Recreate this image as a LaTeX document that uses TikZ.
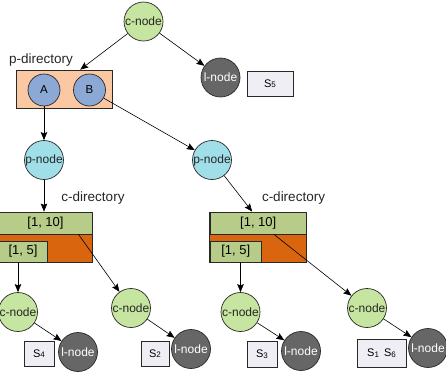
\documentclass[tikz,border=0pt]{standalone}
\usepackage{fontspec}
\setmainfont{Liberation Sans}
\usetikzlibrary{arrows.meta}
\definecolor{cgreen}{RGB}{197,229,160}
\definecolor{pcyan}{RGB}{160,222,232}
\definecolor{lgray}{RGB}{102,102,102}
\definecolor{peach}{RGB}{250,200,162}
\definecolor{abblue}{RGB}{140,168,212}
\definecolor{dgreen}{RGB}{183,204,136}
\definecolor{dorange}{RGB}{217,102,14}
\definecolor{sboxc}{RGB}{240,238,245}
\definecolor{edgec}{RGB}{40,40,40}
\newcommand\Ssub[1]{S\raisebox{-0.6pt}{\fontsize{8}{9}\selectfont #1}}
\begin{document}
\begin{tikzpicture}[x=1pt,y=-1pt,
  nd/.style={circle, draw=edgec, line width=0.7pt, minimum size=39pt, inner sep=0pt, font=\fontsize{12}{14}\selectfont},
  cnode/.style={nd, fill=cgreen, text=black!85},
  pnode/.style={nd, fill=pcyan, text=black!85},
  lnode/.style={nd, fill=lgray, text=white},
  abnode/.style={circle, draw=edgec, line width=0.7pt, fill=abblue, minimum size=32pt, inner sep=0pt, font=\fontsize{11.5}{13}\selectfont},
  sbox/.style={draw=edgec, line width=0.6pt, fill=sboxc, inner sep=0pt, font=\fontsize{11}{13}\selectfont},
  greenbox/.style={draw=edgec, line width=0.7pt, fill=dgreen, inner sep=0pt, font=\fontsize{13}{15}\selectfont},
  orbox/.style={draw=edgec, line width=0.7pt, fill=dorange, inner sep=0pt},
  peachbox/.style={draw=edgec, line width=0.7pt, fill=peach, inner sep=0pt},
  lbl/.style={font=\fontsize{13.5}{16}\selectfont, inner sep=0pt, text=black!85},
  arr/.style={-{Stealth[length=8pt,width=6.5pt,inset=1.2pt]}, line width=0.6pt, draw=black}
]
\useasboundingbox (0,0) rectangle (446,373);

% top level
\node[cnode] (c0) at (143.5,21.5) {c-node};
\node[lnode] (l0) at (220.5,77.5) {l-node};
\node[sbox, minimum width=46pt, minimum height=25pt] (s5) at (270,83.5) {\Ssub{5}};

\node[lbl] (pdirlbl) at (41,60) {p-directory};
\node[peachbox, minimum width=96pt, minimum height=38pt] (pdir) at (64,89) {};
\node[abnode] (A) at (44,90) {A};
\node[abnode] (B) at (89.5,90) {B};

\node[pnode] (pL) at (44,160) {p-node};
\node[pnode] (pR) at (212,160) {p-node};

% left c-directory
\node[lbl] (cdirL) at (93,198) {c-directory};
\node[orbox, minimum width=93pt, minimum height=50pt] (dL) at (45.5,237) {};
\node[greenbox, minimum width=93pt, minimum height=22pt] (dLtop) at (45.5,223) {[1, 10]};
\node[greenbox, minimum width=48pt, minimum height=21pt] (d5L) at (23,251.5) {[1, 5]};

% right c-directory
\node[lbl] (cdirR) at (293.5,198) {c-directory};
\node[orbox, minimum width=97pt, minimum height=50pt] (dR) at (257.5,237) {};
\node[greenbox, minimum width=95.5pt, minimum height=22pt] (dRtop) at (258.25,223) {[1, 10]};
\node[greenbox, minimum width=50.5pt, minimum height=21pt] (d5R) at (235.75,251.5) {[1, 5]};

% bottom level
\node[cnode] (cL) at (18,312) {c-node};
\node[lnode] (lL) at (78,352) {l-node};
\node[sbox, minimum width=30pt, minimum height=25pt] (s4) at (39,353.5) {\Ssub{4}};

\node[cnode] (cM) at (131,308) {c-node};
\node[lnode] (lM) at (191,349) {l-node};
\node[sbox, minimum width=28pt, minimum height=25pt] (s2) at (155,353.5) {\Ssub{2}};

\node[cnode] (cR1) at (240.5,312) {c-node};
\node[lnode] (lR1) at (301,351) {l-node};
\node[sbox, minimum width=30pt, minimum height=26pt] (s3) at (262,354) {\Ssub{3}};

\node[cnode] (cR2) at (367,308) {c-node};
\node[lnode] (lR2) at (428,348) {l-node};
\node[sbox, minimum width=49pt, minimum height=28pt] (s16) at (381.5,353) {\Ssub{1}\hspace{5pt}\Ssub{6}};

% connectors
\draw[arr] (c0) -- (pdir.50);
\draw[arr] (c0) -- (l0);
\draw[arr] (A) -- (pL);
\draw[arr] (B) -- (pR);
\draw[arr] (pL) -- (pL |- dLtop.north);
\draw[arr] (pR) -- (dRtop.118.6);
\draw[arr] (dLtop.-19.5) -- (cM);
\draw[arr] (dRtop.-36) -- (cR2);
\draw[arr] (cL |- d5L.south) -- (cL);
\draw[arr] (cR1 |- d5R.south) -- (cR1);
\draw[arr] (cL) -- (lL);
\draw[arr] (cM) -- (lM);
\draw[arr] (cR1) -- (lR1);
\draw[arr] (cR2) -- (lR2);
\end{tikzpicture}
\end{document}
